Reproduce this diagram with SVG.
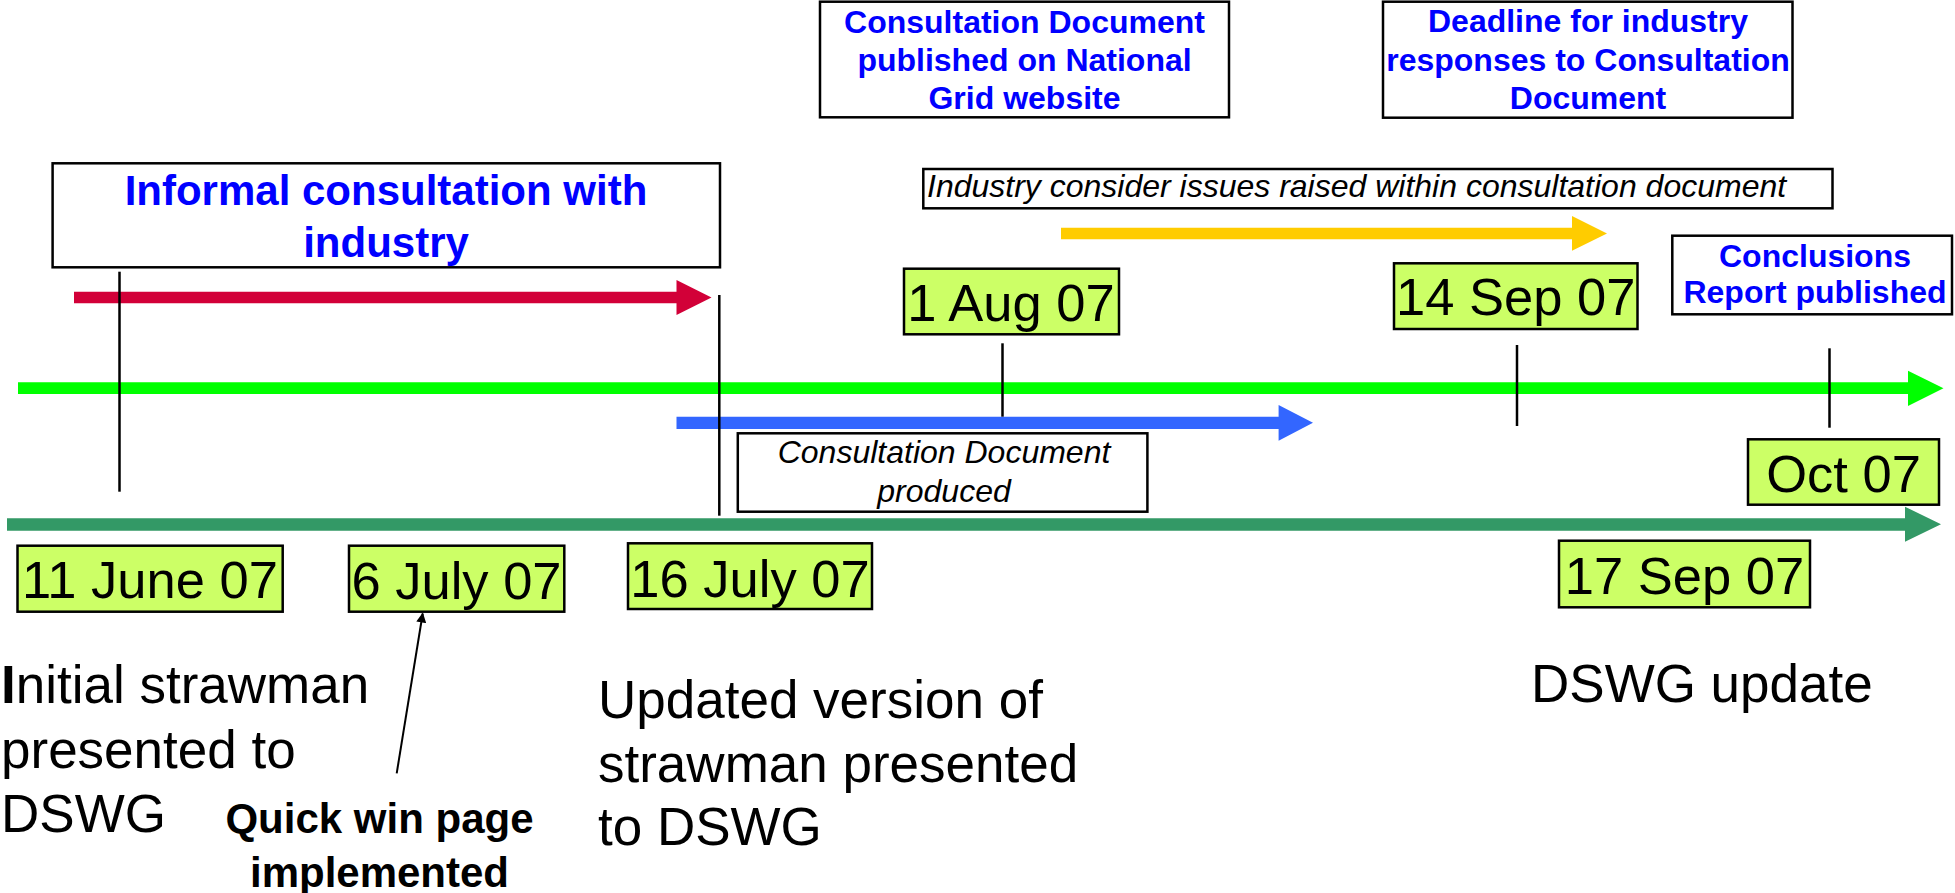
<svg xmlns="http://www.w3.org/2000/svg" width="1955" height="893" viewBox="0 0 1955 893">
<style>
text{font-family:"Liberation Sans",Arial,sans-serif;}
.box{fill:#FFFFFF;stroke:#000000;stroke-width:2.5;}
.date{fill:#CCFF66;stroke:#000000;stroke-width:2.5;}
.dt{font-size:52.5px;fill:#000000;text-anchor:middle;}
.blue{font-size:32px;font-weight:bold;fill:#0000FF;text-anchor:middle;}
.ital{font-size:32px;font-style:italic;fill:#000000;}
.big{font-size:53px;fill:#000000;}
.tick{stroke:#000000;stroke-width:2.5;fill:none;}
</style>
<defs>
<marker id="ah" markerWidth="10" markerHeight="10" refX="9" refY="5" orient="auto" markerUnits="userSpaceOnUse" viewBox="0 0 10 10">
<path d="M0,0 L10,5 L0,10 Z" fill="#000000"/>
</marker>
</defs>

<g id="connectors">
<polygon id="arrow-red" fill="#D20038" points="74,291.7 676.5,291.7 676.5,280 711.5,297.5 676.5,315 676.5,303.3 74,303.3"/>
<polygon id="arrow-yellow" fill="#FFCC00" points="1061,227.7 1572,227.7 1572,216 1607,233.5 1572,250.7 1572,239.3 1061,239.3"/>
<polygon id="arrow-green" fill="#00FF00" points="18,382.3 1908,382.3 1908,370.7 1943.5,388.3 1908,406 1908,394 18,394"/>
<polygon id="arrow-blue" fill="#3366FF" points="676.5,416.7 1278.6,416.7 1278.6,405 1313,422.8 1278.6,440.7 1278.6,429 676.5,429"/>
<polygon id="arrow-darkgreen" fill="#339966" points="7,518.3 1905,518.3 1905,506.7 1941,524.3 1905,541.7 1905,530.7 7,530.7"/>
<line class="tick" x1="119.5" y1="271.7" x2="119.5" y2="491.7"/>
<line class="tick" x1="719.3" y1="295" x2="719.3" y2="515.7"/>
<line class="tick" x1="1002.5" y1="343.3" x2="1002.5" y2="416.7"/>
<line class="tick" x1="1517" y1="345" x2="1517" y2="426"/>
<line class="tick" x1="1829.5" y1="348.3" x2="1829.5" y2="427.7"/>
<line x1="396.7" y1="773.3" x2="422.7" y2="613.5" stroke="#000000" stroke-width="2" marker-end="url(#ah)"/>
</g>

<g id="informal">
<rect class="box" x="52.6" y="163.3" width="667.4" height="104"/>
<text x="386" y="205" style="font-size:42px;font-weight:bold;fill:#0000FF;text-anchor:middle">Informal consultation with</text>
<text x="386" y="257" style="font-size:42px;font-weight:bold;fill:#0000FF;text-anchor:middle">industry</text>
</g>

<g id="consultation-published">
<rect class="box" x="820" y="1.7" width="409" height="115.6"/>
<text class="blue" x="1024.5" y="33.3">Consultation Document</text>
<text class="blue" x="1024.5" y="70.7">published on National</text>
<text class="blue" x="1024.5" y="109">Grid website</text>
</g>

<g id="deadline">
<rect class="box" x="1383" y="1.7" width="409.5" height="116"/>
<text class="blue" x="1588" y="32.3">Deadline for industry</text>
<text class="blue" x="1588" y="70.7">responses to Consultation</text>
<text class="blue" x="1588" y="109">Document</text>
</g>

<g id="industry-consider">
<rect class="box" x="923.3" y="169" width="909.2" height="39.3"/>
<text class="ital" x="927" y="197.3">Industry consider issues raised within consultation document</text>
</g>

<g id="conclusions">
<rect class="box" x="1672.3" y="235.7" width="279.7" height="78.6"/>
<text class="blue" x="1815" y="266.7">Conclusions</text>
<text class="blue" x="1815" y="303.3">Report published</text>
</g>

<g id="consultation-produced">
<rect class="box" x="737.8" y="433.3" width="409.6" height="78.4"/>
<text class="ital" x="944" y="463.3" text-anchor="middle">Consultation Document</text>
<text class="ital" x="944" y="501.7" text-anchor="middle">produced</text>
</g>

<g id="d-11june">
<rect class="date" x="17.5" y="545.7" width="265.2" height="66"/>
<text class="dt" x="150" y="598.3">11 June 07</text>
</g>
<g id="d-6july">
<rect class="date" x="349" y="545.7" width="215.3" height="66"/>
<text class="dt" x="456.5" y="599">6 July 07</text>
</g>
<g id="d-16july">
<rect class="date" x="628" y="543.3" width="244" height="65.7"/>
<text class="dt" x="750" y="596.7">16 July 07</text>
</g>
<g id="d-1aug">
<rect class="date" x="904" y="268.7" width="215" height="65.6"/>
<text class="dt" x="1011" y="320.7">1 Aug 07</text>
</g>
<g id="d-14sep">
<rect class="date" x="1394" y="263.3" width="243.5" height="65.7"/>
<text class="dt" x="1515.7" y="315">14 Sep 07</text>
</g>
<g id="d-17sep">
<rect class="date" x="1559" y="540.7" width="251" height="66.6"/>
<text class="dt" x="1684.5" y="594">17 Sep 07</text>
</g>
<g id="d-oct">
<rect class="date" x="1748" y="439.3" width="191" height="65.4"/>
<text class="dt" x="1843.5" y="491.7">Oct 07</text>
</g>

<g id="initial-strawman">
<text class="big" x="1" y="703"><tspan font-weight="bold">I</tspan>nitial strawman</text>
<text class="big" x="1" y="768">presented to</text>
<text class="big" x="1" y="832">DSWG</text>
</g>

<g id="quick-win">
<text x="379.5" y="833.3" style="font-size:42px;font-weight:bold;fill:#000000;text-anchor:middle">Quick win page</text>
<text x="379.5" y="886.7" style="font-size:42px;font-weight:bold;fill:#000000;text-anchor:middle">implemented</text>
</g>

<g id="updated-version">
<text class="big" x="598" y="718.3">Updated version of</text>
<text class="big" x="598" y="781.7">strawman presented</text>
<text class="big" x="598" y="845">to DSWG</text>
</g>

<g id="dswg-update">
<text class="big" x="1531" y="701.7">DSWG update</text>
</g>
</svg>
